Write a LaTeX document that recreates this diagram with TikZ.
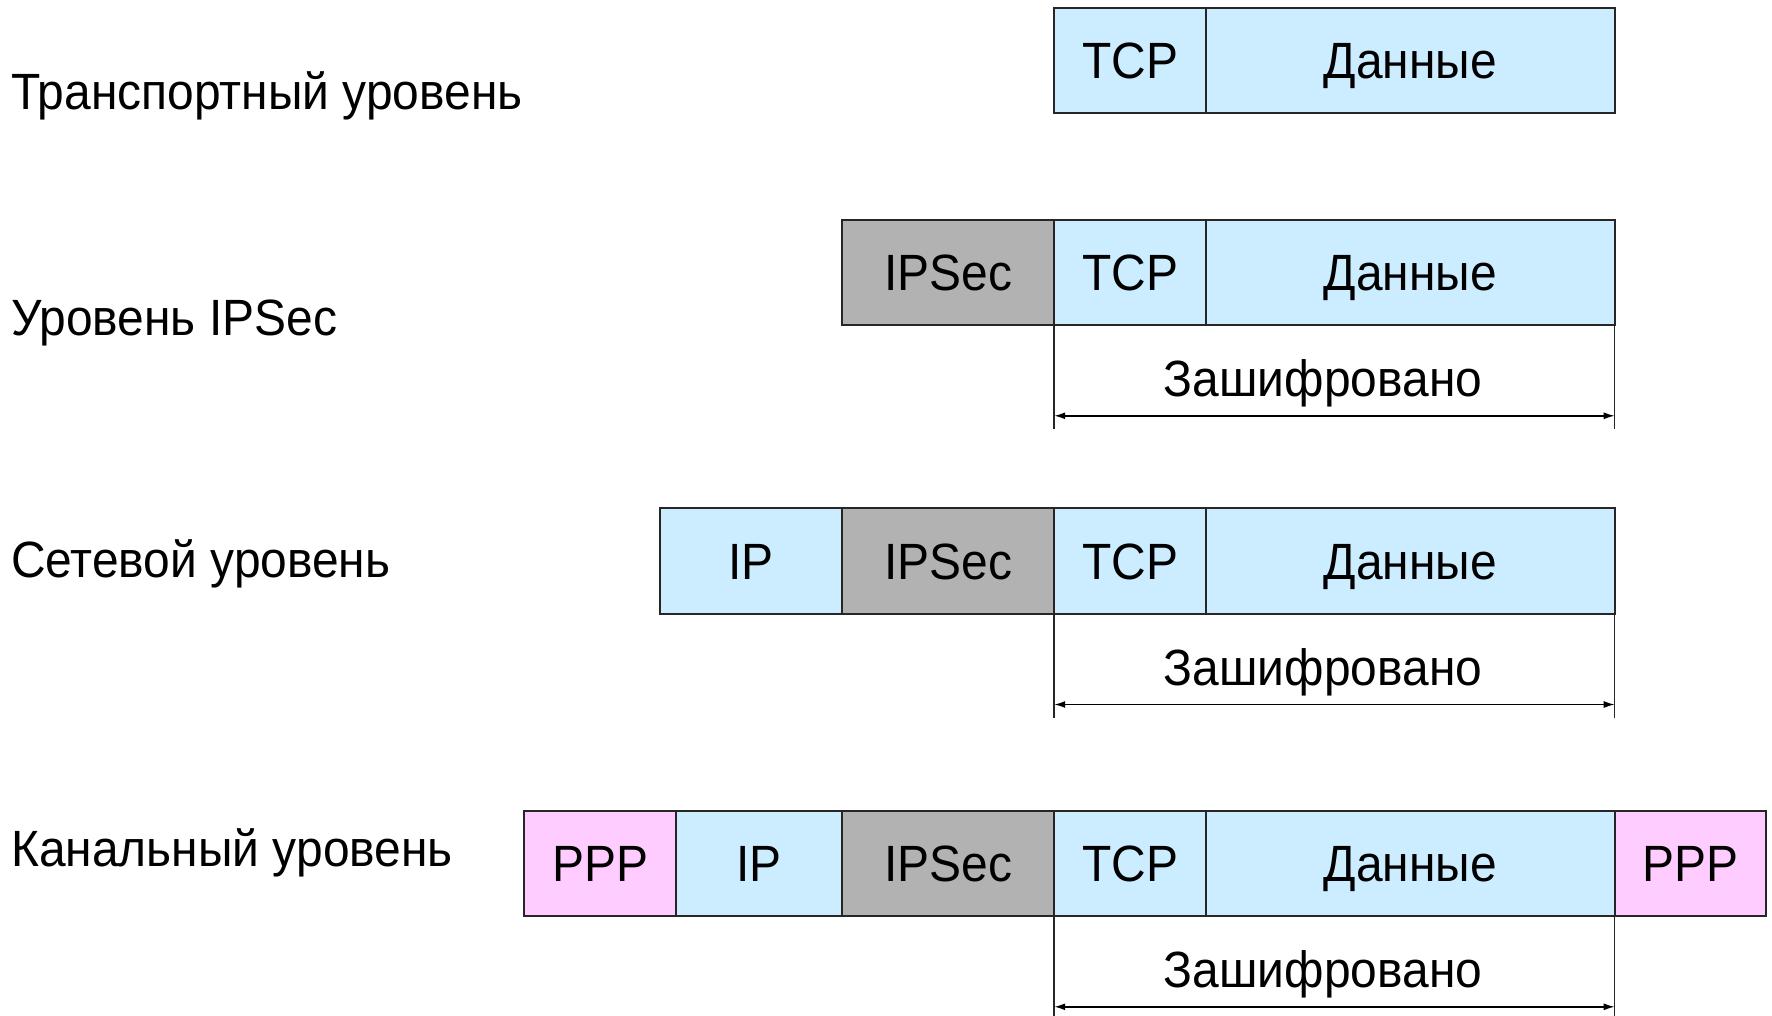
\documentclass[tikz,border=0pt]{standalone}
\usepackage{fontspec}
\setmainfont{Liberation Sans}[FakeStretch=0.94]
\usetikzlibrary{arrows.meta}
\definecolor{cblue}{RGB}{204,236,255}
\definecolor{cgray}{RGB}{178,178,178}
\definecolor{cpink}{RGB}{255,204,255}
\begin{document}
\begin{tikzpicture}[x=1pt,y=-1pt,
  txt/.style={font=\fontsize{51}{60}\selectfont, text height=36.5pt, text depth=0pt},
  cell/.style={txt, draw=black!85, line width=2pt, inner sep=0pt, outer sep=0pt,
    minimum height=105.5pt, anchor=north west},
  bl/.style={cell, fill=cblue},
  gr/.style={cell, fill=cgray},
  pk/.style={cell, fill=cpink},
  lvl/.style={txt, anchor=west, inner sep=0pt},
  enc/.style={txt, inner sep=0pt},
  tick/.style={line width=1.5pt, black!85},
  span/.style={line width=1.5pt, {Latex[length=11pt,width=7pt]}-{Latex[length=11pt,width=7pt]}}
]
\useasboundingbox (0,0) rectangle (1772,1016);

% widths
\def\wPPP{151.7}
\def\wIPa{182.3}
\def\wIPb{166.4}
\def\wSEC{211.8}
\def\wTCP{151.7}
\def\wDAT{408.8}

% Row 1
\node[lvl] (l1) at (11,91.7) {Транспортный уровень};
\node[bl, minimum width=\wTCP] (t1) at (1054.2,7.9) {TCP};
\node[bl, minimum width=\wDAT] (d1) at (1205.9,7.9) {Данные};

% Row 2
\node[lvl] (l2) at (11,317) {Уровень IPSec};
\node[gr, minimum width=\wSEC] (s2) at (842.4,219.7) {IPSec};
\node[bl, minimum width=\wTCP] (t2) at (1054.2,219.7) {TCP};
\node[bl, minimum width=\wDAT] (d2) at (1205.9,219.7) {Данные};
\coordinate (a2l) at ([yshift=-104]t2.south west);
\coordinate (a2r) at ([yshift=-104]d2.south east);
\draw[tick] (t2.south west) -- (a2l);
\draw[tick] (d2.south east) -- (a2r);
\coordinate (p2l) at ([yshift=-90.6]t2.south west);
\coordinate (p2r) at ([yshift=-90.6]d2.south east);
\draw[span] (p2l) -- (p2r);
\node[enc] (e2) at (1323,378.2) {Зашифровано};

% Row 3
\node[lvl] (l3) at (11,559.4) {Сетевой уровень};
\node[bl, minimum width=\wIPa] (i3) at (660.1,508.4) {IP};
\node[gr, minimum width=\wSEC] (s3) at (842.4,508.4) {IPSec};
\node[bl, minimum width=\wTCP] (t3) at (1054.2,508.4) {TCP};
\node[bl, minimum width=\wDAT] (d3) at (1205.9,508.4) {Данные};
\coordinate (a3l) at ([yshift=-104]t3.south west);
\coordinate (a3r) at ([yshift=-104]d3.south east);
\draw[tick] (t3.south west) -- (a3l);
\draw[tick] (d3.south east) -- (a3r);
\coordinate (p3l) at ([yshift=-90.6]t3.south west);
\coordinate (p3r) at ([yshift=-90.6]d3.south east);
\draw[span] (p3l) -- (p3r);
\node[enc] (e3) at (1323,667) {Зашифровано};

% Row 4
\node[lvl] (l4) at (11,848) {Канальный уровень};
\node[pk, minimum width=\wPPP] (pa4) at (524.3,810.7) {PPP};
\node[bl, minimum width=\wIPb] (i4) at (676,810.7) {IP};
\node[gr, minimum width=\wSEC] (s4) at (842.4,810.7) {IPSec};
\node[bl, minimum width=\wTCP] (t4) at (1054.2,810.7) {TCP};
\node[bl, minimum width=\wDAT] (d4) at (1205.9,810.7) {Данные};
\node[pk, minimum width=\wPPP] (pb4) at (1614.7,810.7) {PPP};
\coordinate (a4l) at ([yshift=-106]t4.south west);
\coordinate (a4r) at ([yshift=-106]d4.south east);
\draw[tick] (t4.south west) -- (a4l);
\draw[tick] (d4.south east) -- (a4r);
\coordinate (p4l) at ([yshift=-90.6]t4.south west);
\coordinate (p4r) at ([yshift=-90.6]d4.south east);
\draw[span] (p4l) -- (p4r);
\node[enc] (e4) at (1323,969) {Зашифровано};
\end{tikzpicture}
\end{document}
